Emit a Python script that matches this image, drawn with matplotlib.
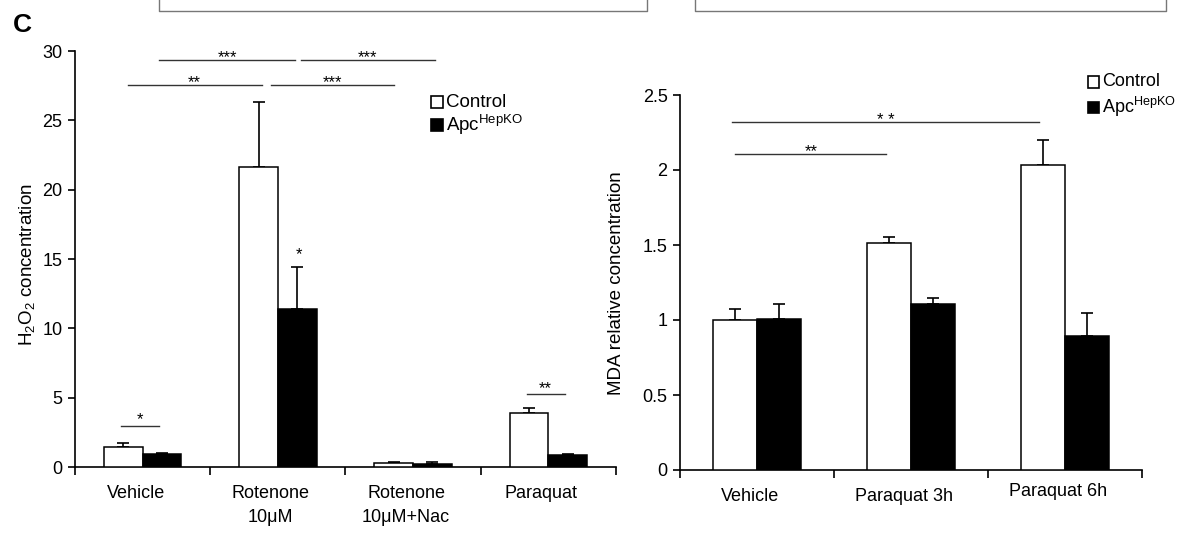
"""
Panel C: H2O2 and MDA concentration, Control vs Apc HepKO
"""

import matplotlib
matplotlib.use('Agg')
import matplotlib.pyplot as plt
import matplotlib.patches as patches
import matplotlib.transforms as mtransforms
import numpy as np

plt.rcParams['font.family'] = ['Liberation Sans', 'DejaVu Sans']
plt.rcParams['mathtext.fontset'] = 'custom'
plt.rcParams['mathtext.rm'] = 'Liberation Sans'
plt.rcParams['mathtext.it'] = 'Liberation Sans'

# ---- data: left panel (H2O2) ----
h2o2_groups = ['Vehicle', 'Rotenone\n10μM', 'Rotenone\n10μM+Nac', 'Paraquat']
h2o2_ctrl = [1.43, 21.65, 0.29, 3.87]
h2o2_ctrl_err = [0.32, 4.65, 0.07, 0.41]
h2o2_ko = [0.94, 11.38, 0.24, 0.87]
h2o2_ko_err = [0.08, 3.07, 0.09, 0.09]
h2o2_ticks = [0, 5, 10, 15, 20, 25, 30]
# (x start, x end, y, stars)
h2o2_sig = [(-0.11, 0.88, 27.55, '**'), (0.95, 1.86, 27.55, '***'),
            (0.12, 1.13, 29.35, '***'), (1.17, 2.16, 29.35, '***'),
            (-0.16, 0.12, 2.98, '*'), (2.84, 3.12, 5.26, '**')]

# ---- data: right panel (MDA) ----
mda_groups = ['Vehicle', 'Paraquat 3h', 'Paraquat 6h']
mda_ctrl = [1.0, 1.515, 2.035]
mda_ctrl_err = [0.075, 0.04, 0.165]
mda_ko = [1.01, 1.105, 0.895]
mda_ko_err = [0.095, 0.04, 0.155]
mda_ticks = [0, 0.5, 1, 1.5, 2, 2.5]
mda_ticklabels = ['0', '0.5', '1', '1.5', '2', '2.5']
mda_sig = [(-0.16, 1.83, 2.32, '* *'), (-0.14, 0.84, 2.11, '**')]

W, H = 1187, 533
BAR_W = 0.286


def px_box(x0, y0, x1, y1):
    """pixel box (top-left origin) -> figure fraction rect"""
    return [x0 / W, 1 - y1 / H, (x1 - x0) / W, (y1 - y0) / H]


def draw_bars(ax, ctrl, ctrl_err, ko, ko_err):
    x = np.arange(len(ctrl))
    ctrl = np.array(ctrl)
    ko = np.array(ko)
    ax.bar(x - BAR_W / 2, ctrl, BAR_W, color='white', edgecolor='black',
           linewidth=1.1, zorder=3)
    ax.bar(x + BAR_W / 2, ko, BAR_W, color='black', edgecolor='black',
           linewidth=1.1, zorder=3)
    # upper error bars only
    ax.errorbar(x - BAR_W / 2, ctrl, yerr=[np.zeros(len(x)), ctrl_err],
                fmt='none', ecolor='black', elinewidth=1.2, capsize=4,
                capthick=1.2, zorder=2)
    ax.errorbar(x + BAR_W / 2, ko, yerr=[np.zeros(len(x)), ko_err],
                fmt='none', ecolor='black', elinewidth=1.2, capsize=4,
                capthick=1.2, zorder=2)


def style_axes(ax, groups):
    n = len(groups)
    for s in ['top', 'right']:
        ax.spines[s].set_visible(False)
    for s in ['left', 'bottom']:
        ax.spines[s].set_linewidth(1.2)
    ax.set_xlim(-0.5, n - 0.5)
    # boundary ticks (major, no labels) + category labels (minor)
    ax.set_xticks(np.arange(n + 1) - 0.5)
    ax.set_xticklabels([])
    ax.set_xticks(np.arange(n), minor=True)
    ax.set_xticklabels(groups, minor=True, fontsize=13, linespacing=1.5)
    ax.tick_params(axis='x', which='major', direction='out', length=6, width=1.2)
    ax.tick_params(axis='x', which='minor', length=0, pad=13)
    ax.tick_params(axis='y', direction='out', length=5, width=1.2,
                   labelsize=13, pad=4)
    # category labels sit slightly left of the bar pairs in the original
    shift = mtransforms.ScaledTranslation(-7 / 100, 0, ax.figure.dpi_scale_trans)
    for lbl in ax.get_xticklabels(minor=True):
        lbl.set_transform(lbl.get_transform() + shift)


def draw_sig(ax, sig, offset_pt, fs):
    for x0, x1, y, lab in sig:
        ax.plot([x0, x1], [y, y], color='#333333', linewidth=1.0, zorder=4)
        ax.annotate(lab, xy=((x0 + x1) / 2, y), xytext=(0, offset_pt),
                    textcoords='offset points', ha='center', va='center',
                    fontsize=fs)


def draw_legend(fig, x, y_ctrl, y_ko, size, fs):
    # squares + labels, pixel positions
    fig.patches.append(patches.Rectangle(
        (x / W, 1 - (y_ctrl + size / 2) / H), size / W, size / H,
        transform=fig.transFigure, facecolor='white', edgecolor='black',
        linewidth=1.2))
    fig.patches.append(patches.Rectangle(
        (x / W, 1 - (y_ko + size / 2) / H), size / W, size / H,
        transform=fig.transFigure, facecolor='black', edgecolor='black',
        linewidth=1.2))
    fig.text((x + size + 3) / W, 1 - y_ctrl / H, 'Control', fontsize=fs,
             va='center', ha='left')
    fig.text((x + size + 3) / W, 1 - y_ko / H, r'Apc$^{\mathrm{HepKO}}$',
             fontsize=fs, va='center', ha='left')


fig = plt.figure(figsize=(W / 100, H / 100), dpi=100)
fig.patch.set_facecolor('white')

# top boxes cut off from the panel above
for bx0, bx1 in [(159, 647), (695, 1166)]:
    fig.add_artist(plt.Line2D([bx0 / W, bx0 / W, bx1 / W, bx1 / W],
                              [1.0, 1 - 11 / H, 1 - 11 / H, 1.0],
                              transform=fig.transFigure, color='#777777',
                              linewidth=1.0))

fig.text(13 / W, 1 - 25 / H, 'C', fontsize=19, fontweight='bold',
         va='center', ha='left')

# ---- left panel ----
ax1 = fig.add_axes(px_box(75, 51, 616, 467))
draw_bars(ax1, h2o2_ctrl, h2o2_ctrl_err, h2o2_ko, h2o2_ko_err)
style_axes(ax1, h2o2_groups)
ax1.set_ylim(0, 30)
ax1.set_yticks(h2o2_ticks)
ax1.set_ylabel(r'H$_2$O$_2$ concentration', fontsize=13.5)
ax1.yaxis.set_label_coords(-0.070, 0.486)
draw_sig(ax1, h2o2_sig[:4], 2, 12)
draw_sig(ax1, h2o2_sig[4:], 4, 12)
ax1.text(1.156, 15.35, '*', ha='center', va='center', fontsize=12)

# ---- right panel ----
ax2 = fig.add_axes(px_box(680, 95, 1142, 470))
draw_bars(ax2, mda_ctrl, mda_ctrl_err, mda_ko, mda_ko_err)
style_axes(ax2, mda_groups)
ax2.set_ylim(0, 2.5)
ax2.set_yticks(mda_ticks)
ax2.set_yticklabels(mda_ticklabels)
ax2.set_ylabel('MDA relative concentration', fontsize=13.5)
ax2.yaxis.set_label_coords(-0.119, 0.499)
draw_sig(ax2, mda_sig, 1, 12)

# "Paraquat 6h" sits a little higher in the original
lbl = ax2.get_xticklabels(minor=True)[2]
lbl.set_transform(lbl.get_transform() +
                  mtransforms.ScaledTranslation(0, 4 / 72, fig.dpi_scale_trans))

draw_legend(fig, 431, 102, 125, 12, 13.5)
draw_legend(fig, 1088, 82, 107, 11, 13)

fig.savefig('out.png', dpi=100, facecolor='white')
